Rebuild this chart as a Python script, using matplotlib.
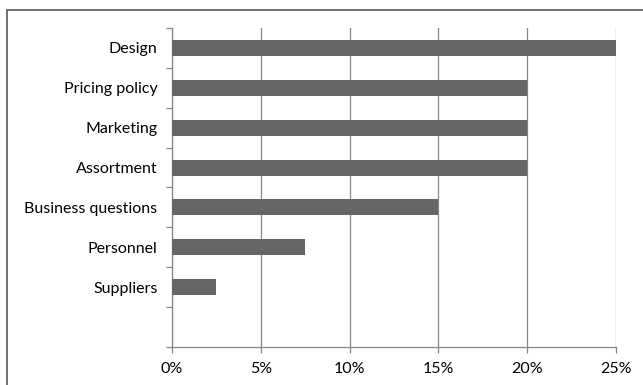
import matplotlib.pyplot as plt
import numpy as np
from matplotlib.patches import Rectangle
from matplotlib.ticker import FuncFormatter

# data
categories = ['Design', 'Pricing policy', 'Marketing', 'Assortment',
              'Business questions', 'Personnel', 'Suppliers']
shares = [25, 20, 20, 20, 15, 7.5, 2.5]
xticks = [0, 5, 10, 15, 20, 25]

plt.rcParams['font.family'] = ['Lato', 'DejaVu Sans']
grey = '#868686'

fig = plt.figure(figsize=(6.43, 3.85), dpi=100)
ax = fig.add_axes([172/643, 1 - 347/385, (616-172)/643, (347-28)/385])

# outer chart frame (cropped on right/bottom in the original)
fig.patches.append(Rectangle((7/643, -0.05), 1.1, 1 - 10/385 + 0.05,
                             transform=fig.transFigure, fill=False,
                             ec='#595959', lw=1.2, zorder=0))

pos = np.arange(len(categories))
ax.barh(pos, shares, height=0.4, color='#666666', zorder=3)

ax.set_xlim(0, 25)
ax.set_ylim(7.5, -0.5)
ax.set_xticks(xticks)
ax.xaxis.set_major_formatter(FuncFormatter(lambda v, p: f'{v:.0f}%'))
ax.grid(axis='x', color=grey, lw=0.9, zorder=0)

ax.set_yticks(pos)
ax.set_yticklabels(categories)
ax.set_yticks(np.arange(-0.5, 8, 1), minor=True)
ax.tick_params(axis='y', which='major', length=0, pad=10.5, labelsize=11.5)
ax.tick_params(axis='y', which='minor', length=4, color=grey, width=0.9)
ax.tick_params(axis='x', length=4, color=grey, width=0.9, pad=7, labelsize=11.5)

for s in ['top', 'right']:
    ax.spines[s].set_visible(False)
for s in ['left', 'bottom']:
    ax.spines[s].set_color(grey)
    ax.spines[s].set_linewidth(0.9)

fig.savefig('out.png', dpi=100)
